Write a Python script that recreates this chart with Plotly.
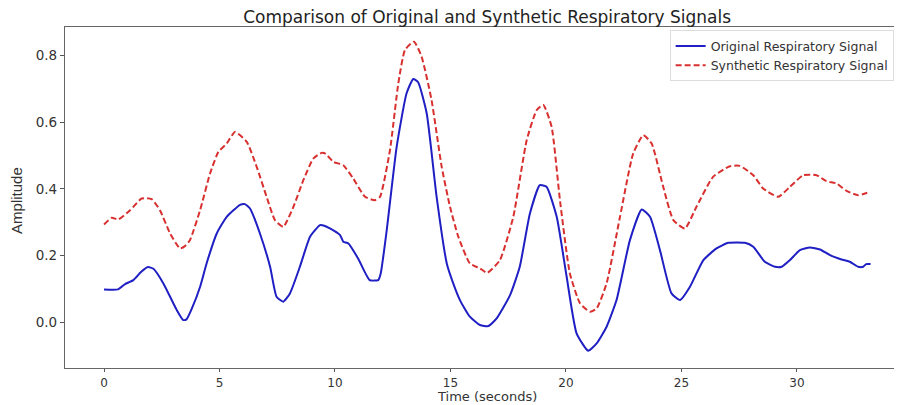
import plotly.graph_objects as go

orig_time = [0, 0.6, 0.91, 1.27, 1.6, 1.9, 2.14, 2.57, 3.15, 3.43, 3.57, 3.8, 4.16, 4.44, 4.88,
             5.31, 5.89, 6.1, 6.32, 6.75, 7.19, 7.47, 7.76, 8.05, 8.48, 8.92, 9.35, 9.5, 9.78,
             10.22, 10.36, 10.58, 11.0, 11.5, 11.87, 11.98, 12.24, 12.67, 13.1, 13.39, 13.6,
             13.97, 14.4, 14.84, 15.1, 15.41, 15.84, 16.28, 16.64, 17.0, 17.58, 18.0, 18.44,
             18.87, 19.16, 19.6, 20.03, 20.46, 20.96, 21.33, 21.76, 22.19, 22.77, 23.28, 23.64,
             24.07, 24.57, 24.94, 25.37, 25.95, 26.52, 27.03, 27.75, 28.11, 28.61, 29.05, 29.34,
             29.7, 30.13, 30.56, 31.0, 31.43, 31.93, 32.29, 32.65, 32.87, 33.0, 33.19]
orig_values = [0.098, 0.098, 0.114, 0.126, 0.15, 0.165, 0.16, 0.116, 0.036, 0.006, 0.008, 0.04,
               0.106, 0.176, 0.266, 0.316, 0.352, 0.354, 0.341, 0.266, 0.166, 0.076, 0.061,
               0.086, 0.166, 0.256, 0.291, 0.29, 0.281, 0.261, 0.241, 0.236, 0.191, 0.126,
               0.126, 0.146, 0.276, 0.526, 0.687, 0.73, 0.72, 0.627, 0.376, 0.176, 0.12, 0.066,
               0.016, -0.009, -0.012, 0.011, 0.081, 0.166, 0.326, 0.411, 0.406, 0.316, 0.136,
               -0.034, -0.086, -0.064, -0.014, 0.066, 0.246, 0.338, 0.316, 0.216, 0.086, 0.066,
               0.106, 0.186, 0.221, 0.238, 0.238, 0.226, 0.181, 0.166, 0.166, 0.186, 0.216,
               0.224, 0.218, 0.201, 0.188, 0.181, 0.166, 0.166, 0.174, 0.174]

synth_time = [0, 0.33, 0.62, 1.13, 1.63, 2.06, 2.42, 2.86, 3.29, 3.5, 3.72, 4.16, 4.59, 4.95,
              5.31, 5.67, 6.18, 6.61, 7.04, 7.4, 7.76, 8.2, 8.63, 9.06, 9.42, 9.6, 9.93, 10.36,
              10.79, 11.3, 11.73, 11.95, 12.38, 12.74, 13.03, 13.42, 13.75, 14.18, 14.62, 14.98,
              15.34, 15.84, 16.28, 16.59, 17.14, 17.72, 18.3, 18.73, 19.02, 19.38, 19.74, 20.17,
              20.61, 21.04, 21.33, 21.76, 22.34, 22.91, 23.35, 23.71, 24.21, 24.65, 25.15, 25.65,
              26.37, 27.1, 27.53, 28.11, 28.54, 29.19, 29.7, 30.27, 30.85, 31.28, 31.72, 32.15,
              32.65, 33.16]
synth_values = [0.293, 0.313, 0.308, 0.336, 0.371, 0.369, 0.336, 0.266, 0.221, 0.228, 0.246,
                0.336, 0.446, 0.511, 0.536, 0.571, 0.541, 0.466, 0.376, 0.306, 0.286, 0.346,
                0.426, 0.491, 0.508, 0.505, 0.481, 0.471, 0.431, 0.376, 0.366, 0.376, 0.516,
                0.716, 0.817, 0.842, 0.797, 0.667, 0.466, 0.346, 0.256, 0.176, 0.161, 0.148,
                0.186, 0.316, 0.546, 0.636, 0.652, 0.586, 0.366, 0.146, 0.056, 0.031, 0.041,
                0.116, 0.316, 0.506, 0.561, 0.536, 0.406, 0.306, 0.281, 0.346, 0.436, 0.468,
                0.469, 0.441, 0.401, 0.376, 0.406, 0.441, 0.441, 0.423, 0.416, 0.394, 0.381,
                0.391]

x_ticks = [0, 5, 10, 15, 20, 25, 30]
y_ticks = [0.0, 0.2, 0.4, 0.6, 0.8]
y_tick_labels = ["0.0", "0.2", "0.4", "0.6", "0.8"]

FONT = "DejaVu Sans"
TXT = "#333333"

fig = go.Figure()
fig.add_trace(go.Scatter(
    x=orig_time, y=orig_values, mode="lines", name="Original Respiratory Signal",
    line=dict(color="#1f1fc4", width=2, shape="spline", smoothing=0.5),
))
fig.add_trace(go.Scatter(
    x=synth_time, y=synth_values, mode="lines", name="Synthetic Respiratory Signal",
    line=dict(color="#d8302f", width=2, dash="6px,3px", shape="spline", smoothing=0.5),
))

# page body has an 8px margin; figure sized so it ends at the window edge
fig.update_layout(
    width=894, height=397,
    margin=dict(l=57, r=0, t=19, b=37, autoexpand=False),
    paper_bgcolor="white", plot_bgcolor="white",
    font=dict(family=FONT, size=12, color=TXT),
    title=dict(text="Comparison of Original and Synthetic Respiratory Signals",
               x=0.536, xanchor="center", y=0.976, yanchor="middle",
               font=dict(family=FONT, size=17, color="#222222")),
    legend=dict(x=0.99, xanchor="right", y=0.99, yanchor="top",
                bgcolor="white", bordercolor="#dddddd", borderwidth=1,
                font=dict(family=FONT, size=12.5, color=TXT),
                tracegroupgap=0, itemwidth=30),
    showlegend=True,
    annotations=[
        dict(text="Time (seconds)", xref="paper", yref="paper", x=0.504, y=-0.083,
             xanchor="center", yanchor="middle", showarrow=False,
             font=dict(family=FONT, size=13, color=TXT)),
        dict(text="Amplitude", xref="paper", yref="paper", x=-0.0573, y=0.49,
             xanchor="center", yanchor="middle", showarrow=False, textangle=-90,
             font=dict(family="Liberation Sans Narrow, Liberation Sans", size=15, color=TXT)),
    ],
)
fig.update_xaxes(
    range=[-1.69, 34.55], tickvals=x_ticks, ticktext=[str(v) for v in x_ticks],
    showgrid=False, zeroline=False, showline=True, linecolor="#666666", linewidth=1.2,
    mirror=True, ticks="outside", ticklen=3, tickcolor="#555555", automargin=False,
    tickfont=dict(family=FONT, size=12, color=TXT),
)
fig.update_yaxes(
    range=[-0.138, 0.886], tickvals=y_ticks, ticktext=y_tick_labels,
    showgrid=False, zeroline=False, showline=True, linecolor="#666666", linewidth=1.2,
    mirror=False, ticks="outside", ticklen=4, tickcolor="#555555", automargin=False,
    tickfont=dict(family=FONT, size=13.5, color=TXT),
)

fig.write_html("out.html")
